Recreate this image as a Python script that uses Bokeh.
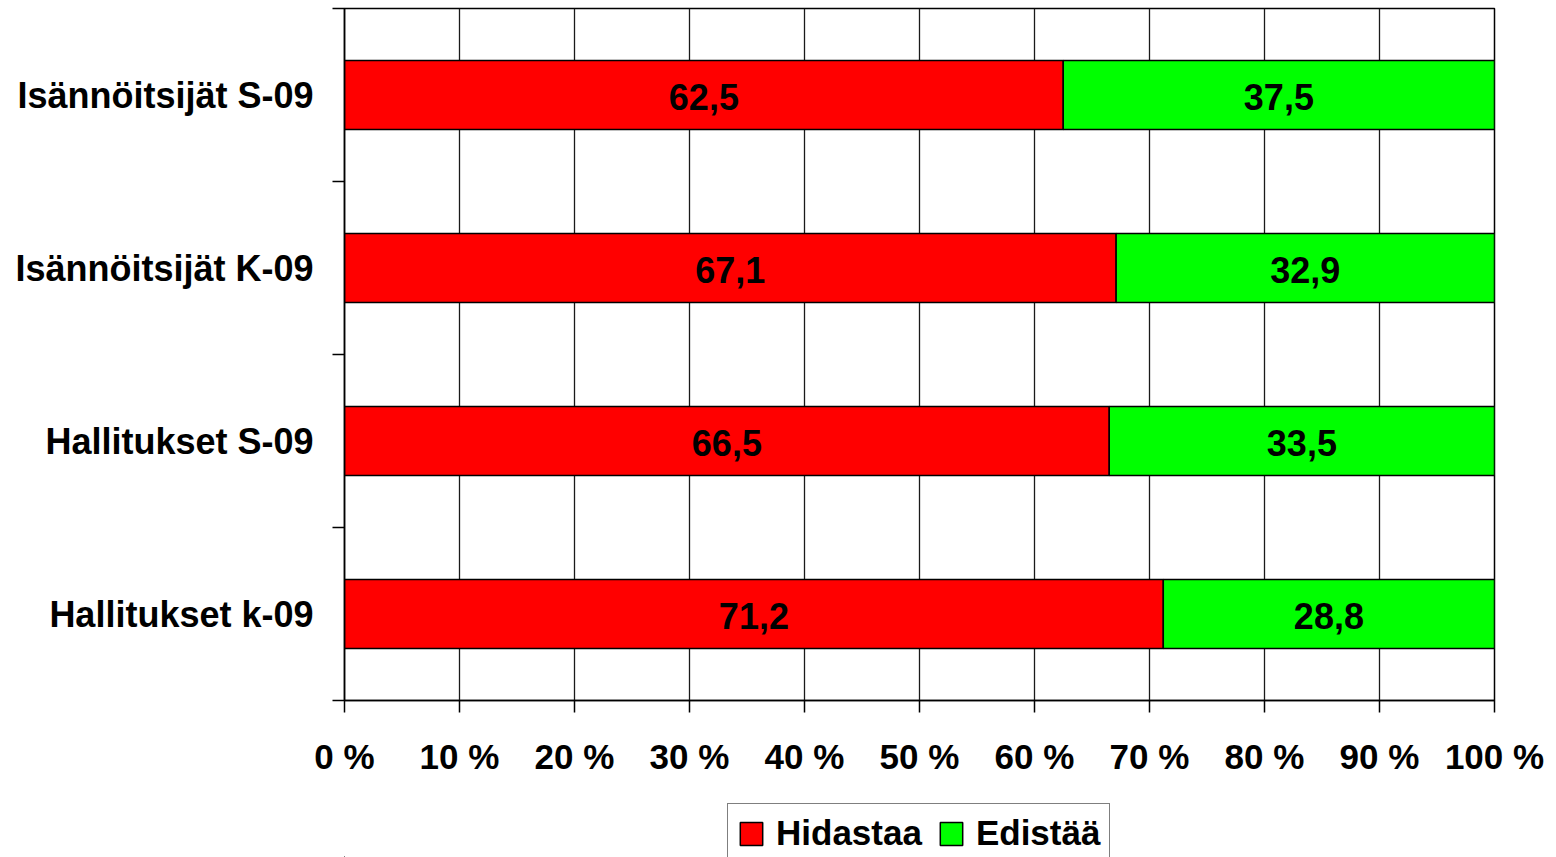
from bokeh.plotting import figure
from bokeh.layouts import column
from bokeh.models import Range1d, FixedTicker, ColumnDataSource, Legend, LegendItem
from bokeh.core.properties import value
from bokeh.embed import file_html
from bokeh.resources import INLINE

# Data (bottom to top)
categories = ["Hallitukset k-09", "Hallitukset S-09", "Isännöitsijät K-09", "Isännöitsijät S-09"]
hidastaa = [71.2, 66.5, 67.1, 62.5]
edistaa = [28.8, 33.5, 32.9, 37.5]
x_ticks = [0, 10, 20, 30, 40, 50, 60, 70, 80, 90, 100]
x_tick_labels = ["0 %", "10 %", "20 %", "30 %", "40 %", "50 %", "60 %", "70 %", "80 %", "90 %", "100 %"]
series_names = ["Hidastaa", "Edistää"]
series_colors = ["#FF0000", "#00FF00"]

FONT = "Liberation Sans"

ypos = [i + 0.5 for i in range(len(categories))]
bounds = [float(i) for i in range(len(categories) + 1)]

def fmt(v):
    return ("%.1f" % v).replace(".", ",")

src = ColumnDataSource(dict(
    y=ypos,
    h_left=[0.0] * len(categories),
    h_right=hidastaa,
    e_left=hidastaa,
    e_right=[a + b for a, b in zip(hidastaa, edistaa)],
    h_mid=[v / 2 for v in hidastaa],
    e_mid=[a + b / 2 for a, b in zip(hidastaa, edistaa)],
    h_txt=[fmt(v) for v in hidastaa],
    e_txt=[fmt(v) for v in edistaa],
))
seg_cols = [("h_left", "h_right"), ("e_left", "e_right")]

p = figure(width=1556, height=790, output_backend="svg", toolbar_location=None,
           x_range=Range1d(0, 100), y_range=Range1d(0, len(categories)),
           min_border_left=344, min_border_right=62, min_border_top=8, min_border_bottom=90)
p.background_fill_color = "white"
p.border_fill_color = "white"
p.outline_line_color = "black"
p.outline_line_width = 1.5

# grids
p.ygrid.visible = False
p.xgrid.ticker = FixedTicker(ticks=x_ticks)
p.xgrid.grid_line_color = "#1a1a1a"
p.xgrid.grid_line_width = 1.3

for (lc, rc), c in zip(seg_cols, series_colors):
    p.hbar(y="y", left=lc, right=rc, height=0.4, source=src,
           fill_color=c, line_color="black", line_width=1.5)

for xcol, tcol in (("h_mid", "h_txt"), ("e_mid", "e_txt")):
    p.text(x=xcol, y="y", text=tcol, source=src, text_align="center", text_baseline="middle",
           text_font=value(FONT), text_font_style="bold", text_font_size="36px", text_color="black",
           y_offset=2)

# x axis
xa = p.xaxis[0]
xa.ticker = FixedTicker(ticks=x_ticks)
xa.major_label_overrides = {t: l for t, l in zip(x_ticks, x_tick_labels)}
xa.major_tick_out = 12
xa.major_tick_in = 0
xa.minor_tick_out = 0
xa.minor_tick_in = 0
xa.axis_line_color = "black"
xa.axis_line_width = 1.5
xa.major_tick_line_color = "black"
xa.major_tick_line_width = 1.5
xa.major_label_standoff = 24
xa.major_label_text_font = FONT
xa.major_label_text_font_style = "bold"
xa.major_label_text_font_size = "35px"
xa.major_label_text_color = "black"

# y axis
ya = p.yaxis[0]
ya.ticker = FixedTicker(ticks=ypos, minor_ticks=bounds)
ya.major_label_overrides = {t: c for t, c in zip(ypos, categories)}
ya.major_tick_out = 0
ya.major_tick_in = 0
ya.minor_tick_out = 12
ya.minor_tick_in = 0
ya.minor_tick_line_color = "black"
ya.minor_tick_line_width = 1.5
ya.axis_line_color = "black"
ya.axis_line_width = 1.5
ya.major_label_standoff = 19
ya.major_label_text_font = FONT
ya.major_label_text_font_style = "bold"
ya.major_label_text_font_size = "36px"
ya.major_label_text_color = "black"

# legend strip below the chart (same series, plotted out of view so only the legend shows)
p2 = figure(width=1556, height=67, output_backend="svg", toolbar_location=None,
            x_range=Range1d(1000, 1100), y_range=Range1d(100, 110), x_axis_type=None, y_axis_type=None,
            min_border_left=0, min_border_right=0, min_border_top=0, min_border_bottom=0)
p2.outline_line_color = None
p2.background_fill_color = "white"
p2.border_fill_color = "white"
leg_renderers = [p2.hbar(y="y", left=lc, right=rc, height=0.4, source=src, fill_color=c,
                         line_color="black", line_width=1.5)
                 for (lc, rc), c in zip(seg_cols, series_colors)]

legend = Legend(items=[LegendItem(label=n, renderers=[r]) for n, r in zip(series_names, leg_renderers)],
                orientation="horizontal", location=(383, -6))
legend.label_text_font = FONT
legend.label_text_font_style = "bold"
legend.label_text_font_size = "35px"
legend.label_text_color = "black"
legend.glyph_width = 28
legend.glyph_height = 29
legend.label_standoff = 11
legend.spacing = 15
legend.padding = 9
legend.margin = 0
legend.border_line_color = "black"
legend.border_line_width = 1.5
legend.background_fill_color = "white"
legend.background_fill_alpha = 1
p2.add_layout(legend, "center")

layout = column(p, p2, spacing=0)
open("out.html", "w").write(file_html(layout, INLINE))
